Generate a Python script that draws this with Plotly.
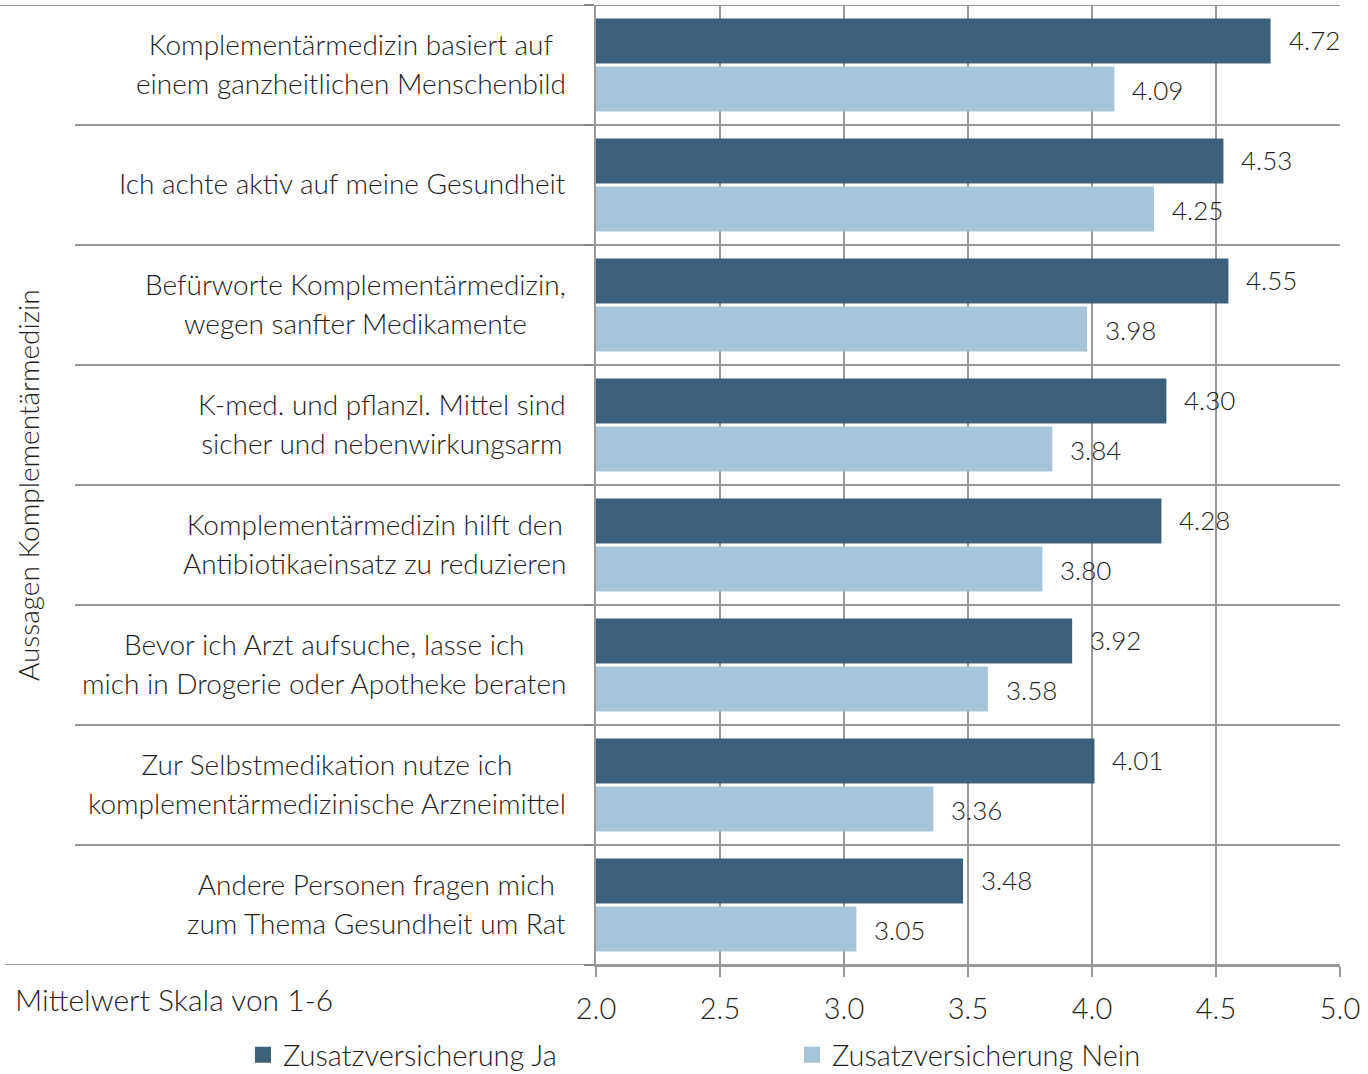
import plotly.graph_objects as go

# Aussagen (Zeilenumbruch wie im Original)
aussagen = [
    ["Komplementärmedizin basiert auf", "einem ganzheitlichen Menschenbild"],
    ["Ich achte aktiv auf meine Gesundheit"],
    ["Befürworte Komplementärmedizin,", "wegen sanfter Medikamente"],
    ["K-med. und pflanzl. Mittel sind", "sicher und nebenwirkungsarm"],
    ["Komplementärmedizin hilft den", "Antibiotikaeinsatz zu reduzieren"],
    ["Bevor ich Arzt aufsuche, lasse ich", "mich in Drogerie oder Apotheke beraten"],
    ["Zur Selbstmedikation nutze ich", "komplementärmedizinische Arzneimittel"],
    ["Andere Personen fragen mich", "zum Thema Gesundheit um Rat"],
]
werte_ja = [4.72, 4.53, 4.55, 4.30, 4.28, 3.92, 4.01, 3.48]
werte_nein = [4.09, 4.25, 3.98, 3.84, 3.80, 3.58, 3.36, 3.05]
x_ticks = [2.0, 2.5, 3.0, 3.5, 4.0, 4.5, 5.0]

FONT = "Lato, 'Noto Sans', sans-serif"
TXT = "#1e1e1e"
GRID = "#999999"
DUNKEL = "#3c6079"
HELL = "#a8c4d8"

idx = list(range(len(aussagen)))

fig = go.Figure()
fig.add_trace(go.Bar(y=idx, x=werte_ja, orientation="h", showlegend=False,
                     marker=dict(color=DUNKEL, line=dict(width=0))))
fig.add_trace(go.Bar(y=idx, x=werte_nein, orientation="h", showlegend=False,
                     marker=dict(color=HELL, line=dict(width=0))))
# Legendeneinträge mit größeren Quadraten
for name, farbe in [("Zusatzversicherung Ja", DUNKEL), ("Zusatzversicherung Nein", HELL)]:
    fig.add_trace(go.Scatter(x=[None], y=[None], mode="markers", name=name,
                             marker=dict(symbol="square", size=20, color=farbe)))

W_PLOT = 1340 - 596

annots = []
# Werte-Labels
for serie, off in [(werte_ja, -0.21), (werte_nein, 0.21)]:
    for i, v in enumerate(serie):
        annots.append(dict(x=v, y=i + off, xref="x", yref="y", text=f"{v:.2f}",
                           showarrow=False, xanchor="left", xshift=16,
                           font=dict(size=26, color=TXT, family=FONT, weight=300)))
# Kategorie-Beschriftungen (Zeilenabstand über größere Basisschrift)
for i, zeilen in enumerate(aussagen):
    t = "<br>".join(f"<span style='font-size:28px'>{z}</span>" for z in zeilen)
    annots.append(dict(x=0, y=i, xref="paper", yref="y", text=t, showarrow=False,
                       xanchor="right", xshift=-28, yshift=2, align="center",
                       font=dict(size=30, color=TXT, family=FONT, weight=300)))
annots.append(dict(x=-583 / W_PLOT, y=0, xref="paper", yref="paper", yshift=-34,
                   text="Mittelwert Skala von 1-6", showarrow=False, xanchor="left",
                   yanchor="middle", font=dict(size=30, color=TXT, family=FONT, weight=300)))
annots.append(dict(x=-568 / W_PLOT, y=0.5, xref="paper", yref="paper",
                   text="Aussagen Komplementärmedizin", textangle=-90, showarrow=False,
                   xanchor="center", yanchor="middle",
                   font=dict(size=28, color=TXT, family=FONT, weight=300)))

shapes = []
# Zeilen-Trennlinien
n = len(aussagen)
for b in range(n + 1):
    y = b - 0.5
    if b == 0:
        x0 = -596 / W_PLOT
    elif b == n:
        x0 = -591 / W_PLOT
    else:
        x0 = -521 / W_PLOT
    shapes.append(dict(type="line", xref="paper", yref="y", x0=x0, x1=1, y0=y, y1=y,
                       line=dict(color=GRID, width=2), layer="below"))

fig.update_layout(
    width=1368, height=1074,
    margin=dict(l=596, r=28, t=5, b=109, autoexpand=False),
    paper_bgcolor="white", plot_bgcolor="white",
    barmode="group", bargap=0.2, bargroupgap=0.06,
    font=dict(family=FONT, color=TXT, size=27, weight=300),
    annotations=annots, shapes=shapes,
    showlegend=True,
    legend=dict(orientation="h", x=-353 / W_PLOT, xanchor="left", y=-90 / 960, yanchor="middle",
                entrywidth=504, entrywidthmode="pixels", traceorder="normal",
                font=dict(size=29, color=TXT, family=FONT, weight=300), itemsizing="trace",
                itemwidth=30),
)
fig.update_xaxes(range=[2, 5], tickvals=x_ticks, ticktext=[f"{t:.1f}" for t in x_ticks],
                 showgrid=True, gridcolor=GRID, gridwidth=2, zeroline=False,
                 showline=True, linecolor=GRID, linewidth=2,
                 ticks="outside", ticklen=10, tickwidth=2, tickcolor=GRID,
                 tickfont=dict(size=29, color=TXT, family=FONT, weight=300), ticklabelstandoff=7)
fig.update_yaxes(range=[n - 0.5, -0.5], showticklabels=False, showgrid=False,
                 zeroline=False, showline=True, linecolor=GRID, linewidth=2,
                 tickvals=[b - 0.5 for b in range(n + 1)],
                 ticks="outside", ticklen=10, tickwidth=2, tickcolor="#8a8a8a")

fig.write_html("out.html", config={"displayModeBar": False},
               post_script="document.body.style.margin='0';")
